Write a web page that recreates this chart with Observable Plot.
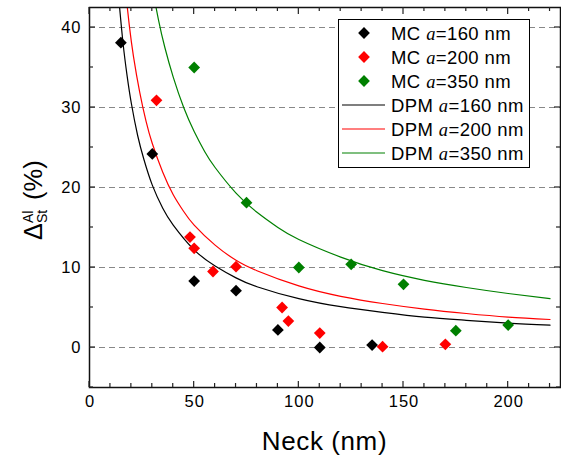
<!DOCTYPE html>
<html><head><meta charset="utf-8">
<script src="https://cdn.jsdelivr.net/npm/d3@7"></script>
<script src="https://cdn.jsdelivr.net/npm/@observablehq/plot@0.6"></script>
<style>body{margin:0;background:#fff} svg{display:block} .tl text{letter-spacing:1px}</style>
</head><body><div id="chart"></div>
<script>
// ---- data ----
const seriesA = [160, 200, 350];
const seriesColors = ["#000000", "#ff0000", "#008000"];

const mc160Neck = [15, 30, 50, 70, 90, 110, 135];
const mc160Delta = [38.1, 24.2, 8.3, 7.1, 2.2, 0.0, 0.3];
const mc200Neck = [32, 48, 50, 59, 70, 92, 95, 110, 140, 170];
const mc200Delta = [30.9, 13.8, 12.4, 9.5, 10.1, 5.0, 3.3, 1.8, 0.1, 0.4];
const mc350Neck = [50, 75, 100, 125, 150, 175, 200];
const mc350Delta = [35.0, 18.1, 10.0, 10.4, 7.9, 2.1, 2.8];

const dpm160Neck = [14, 16, 18, 20, 23, 26, 30, 35, 40, 50, 60, 70, 80, 100, 120, 140, 160, 180, 200, 220];
const dpm160Delta = [43.6, 38.1, 33.9, 30.5, 26.5, 23.5, 20.3, 17.4, 15.3, 12.2, 10.2, 8.7, 7.6, 6.1, 5.1, 4.4, 3.8, 3.4, 3.05, 2.8];
const dpm200Neck = [17, 19, 21, 24, 27, 30, 35, 40, 45, 50, 60, 70, 80, 100, 120, 140, 160, 180, 200, 220];
const dpm200Delta = [45.0, 40.3, 36.4, 31.9, 28.3, 25.5, 21.9, 19.1, 17.0, 15.3, 12.8, 10.9, 9.6, 7.7, 6.4, 5.5, 4.8, 4.25, 3.8, 3.5];
const dpm350Neck = [30, 33, 36, 40, 45, 50, 55, 60, 70, 80, 90, 100, 120, 140, 160, 180, 200, 220];
const dpm350Delta = [45.0, 40.9, 37.5, 33.8, 30.0, 27.0, 24.5, 22.5, 19.3, 16.9, 15.0, 13.5, 11.3, 9.6, 8.4, 7.5, 6.75, 6.1];

const xMajorTicks = [0, 50, 100, 150, 200];
const xMinorTicks = [10, 20, 30, 40, 60, 70, 80, 90, 110, 120, 130, 140, 160, 170, 180, 190, 210, 220];
const yMajorTicks = [0, 10, 20, 30, 40];
const yMinorTicks = [-5, 5, 15, 25, 35];
const legendLabels = ["MC", "MC", "MC", "DPM", "DPM", "DPM"];

// ---- build tables ----
const mcRows = [];
[[mc160Neck, mc160Delta], [mc200Neck, mc200Delta], [mc350Neck, mc350Delta]].forEach(([xs, ys], i) => {
  xs.forEach((x, j) => mcRows.push({a: seriesA[i], neck: x, delta: ys[j]}));
});
const dpmRows = [];
[[dpm160Neck, dpm160Delta], [dpm200Neck, dpm200Delta], [dpm350Neck, dpm350Delta]].forEach(([xs, ys], i) => {
  xs.forEach((x, j) => dpmRows.push({a: seriesA[i], neck: x, delta: ys[j]}));
});

const font = "'Liberation Sans', Arial, Helvetica, sans-serif";
const tickStroke = "#222";

const plot = Plot.plot({
  width: 561, height: 459,
  marginLeft: 89, marginRight: 1, marginTop: 7, marginBottom: 72,
  style: {fontFamily: font, background: "white", color: "black"},
  x: {domain: [0, 225]},
  y: {domain: [-5, 42.5]},
  color: {type: "ordinal", domain: seriesA, range: seriesColors},
  marks: [
    Plot.gridY(yMajorTicks, {stroke: "#888", strokeOpacity: 1, strokeDasharray: "6,4", strokeWidth: 1}),
    Plot.line(dpmRows, {x: "neck", y: "delta", z: "a", stroke: "a", curve: "natural", clip: true, strokeWidth: 1.2}),
    Plot.dot(mcRows, {x: "neck", y: "delta", fill: "a", symbol: "diamond2", r: 5.3, stroke: null}),
    Plot.axisX(xMajorTicks, {anchor: "bottom", tickSize: 0, tickPadding: 8, fontSize: 16.5, label: null, fill: "black", dx: 0.5, className: "tl"}),
    Plot.axisY(yMajorTicks, {anchor: "left", tickSize: 0, tickPadding: 8, fontSize: 16.5, label: null, fill: "black", className: "tl"}),
    Plot.frame({stroke: "#111", strokeWidth: 1.5})
  ]
});
document.getElementById("chart").appendChild(plot);

const svg = d3.select(plot);
const sx = plot.scale("x"), sy = plot.scale("y");
const [x0, x1] = sx.range, [y0, y1] = sy.range; // y0 bottom, y1 top

// inward ticks on all four sides (positions from Plot's scales)
const tg = svg.append("g").attr("stroke", tickStroke).attr("stroke-width", 1.2);
function xTicks(vals, len) {
  vals.forEach(v => {
    const px = sx.apply(v);
    tg.append("line").attr("x1", px).attr("x2", px).attr("y1", y0).attr("y2", y0 - len);
    tg.append("line").attr("x1", px).attr("x2", px).attr("y1", y1).attr("y2", y1 + len + (len > 5 ? 1 : 0));
  });
}
function yTicks(vals, len) {
  vals.forEach(v => {
    const py = sy.apply(v);
    tg.append("line").attr("x1", x0).attr("x2", x0 + len).attr("y1", py).attr("y2", py);
    tg.append("line").attr("x1", x1).attr("x2", x1 - len).attr("y1", py).attr("y2", py);
  });
}
xTicks(xMajorTicks, 6); xTicks(xMinorTicks, 4);
yTicks(yMajorTicks, 6); yTicks(yMinorTicks, 4);

// x axis title
svg.append("text")
  .attr("x", (x0 + x1) / 2).attr("y", 450)
  .attr("text-anchor", "middle")
  .attr("font-family", font).attr("font-size", 26).attr("letter-spacing", "0.6px").attr("fill", "black")
  .text("Neck (nm)");

// y axis title: Δ_St^Al (%)
const yl = svg.append("g").attr("transform", "translate(42,200) rotate(-90)")
  .attr("font-family", font).attr("fill", "black").attr("text-anchor", "start");
yl.append("text").attr("x", -40).attr("y", 0).attr("font-size", 25).text("\u0394");
yl.append("text").attr("x", -23).attr("y", -9).attr("font-size", 14).text("Al");
yl.append("text").attr("x", -23).attr("y", 5).attr("font-size", 14).text("St");
yl.append("text").attr("x", 0).attr("y", 0).attr("font-size", 25.5).text("(%)");

// legend
const lg = svg.append("g").attr("font-family", font).attr("text-anchor", "start");
lg.append("rect").attr("x", 338.5).attr("y", 19.5).attr("width", 191).attr("height", 148)
  .attr("fill", "white").attr("stroke", "black").attr("stroke-width", 1);
const diamond = d3.symbol(d3.symbolDiamond2, Math.PI * 5.3 * 5.3)();
legendLabels.forEach((lab, i) => {
  const cy = 33 + i * 24;
  const col = seriesColors[i % 3];
  if (i < 3) {
    lg.append("path").attr("d", diamond).attr("transform", `translate(364,${cy})`).attr("fill", col);
  } else {
    lg.append("line").attr("x1", 342).attr("x2", 385).attr("y1", cy).attr("y2", cy)
      .attr("stroke", col).attr("stroke-width", 1.2);
  }
  const t = lg.append("text").attr("x", 391).attr("y", cy + 6.5).attr("font-size", 18.5)
    .attr("letter-spacing", "0.4px").attr("fill", "black");
  t.append("tspan").text(lab + " ");
  t.append("tspan").attr("font-family", "'Liberation Serif', 'Times New Roman', serif").attr("font-style", "italic").text("a");
  t.append("tspan").text("=" + seriesA[i % 3] + " nm");
});
</script>
</body></html>
